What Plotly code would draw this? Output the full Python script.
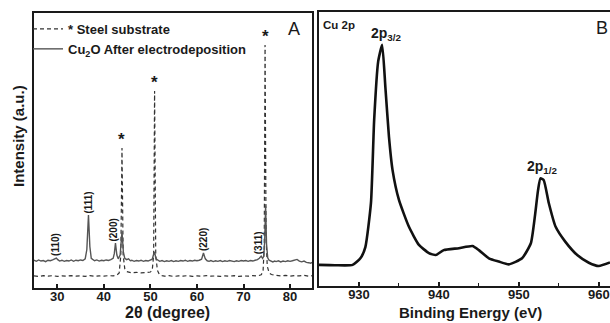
import plotly.graph_objects as go

# ---------------- Panel A: XRD ----------------
two_theta_cu2o = [25.0, 25.5, 26.0, 26.5, 27.0, 27.5, 28.0, 28.5, 29.0, 29.4, 29.8, 30.1, 30.5, 31.0, 31.5,
                  32.0, 32.5, 33.0, 33.5, 34.0, 34.5, 35.0, 35.5, 36.0, 36.35, 36.7, 37.0, 37.3, 37.7,
                  38.0, 38.5, 39.0, 39.5, 40.0, 40.5, 41.0, 41.5, 42.0, 42.25, 42.5, 42.8, 43.1, 43.5,
                  43.9, 44.2, 44.5, 44.9, 45.3, 45.7, 46.0, 46.5, 47.0, 47.5, 48.0, 48.5, 49.0, 49.5,
                  50.0, 50.4, 50.65, 50.9, 51.2, 51.6, 52.0, 52.5, 53.0, 53.5, 54.0, 54.5, 55.0, 55.5,
                  56.0, 56.5, 57.0, 57.5, 58.0, 58.5, 59.0, 59.5, 60.0, 60.5, 61.0, 61.4, 61.8, 62.2,
                  62.6, 63.0, 63.5, 64.0, 64.5, 65.0, 65.5, 66.0, 66.5, 67.0, 67.5, 68.0, 68.5, 69.0,
                  69.5, 70.0, 70.5, 71.0, 71.5, 72.0, 72.5, 73.0, 73.4, 73.8, 74.1, 74.35, 74.55, 74.75,
                  74.95, 75.2, 75.5, 75.9, 76.3, 76.7, 77.0, 77.5, 78.0, 78.5, 79.0, 79.5, 80.0, 80.5,
                  81.0, 81.5, 82.0, 82.5, 83.0, 83.5, 84.0, 84.4, 84.8]
int_cu2o = [10.1, 9.7, 10.2, 9.8, 10.0, 9.6, 10.1, 9.9, 10.2, 10.5, 10.9, 10.3, 9.8, 10.1, 9.7,
            10.0, 9.8, 10.2, 9.7, 10.1, 9.9, 10.2, 10.0, 10.6, 14.0, 26.5, 15.0, 10.8, 10.2,
            9.9, 10.2, 9.8, 10.1, 9.9, 10.2, 10.0, 10.3, 10.8, 12.5, 16.3, 12.0, 10.6, 12.0,
            20.5, 13.0, 10.8, 10.3, 10.6, 9.9, 10.1, 9.7, 10.0, 9.8, 10.1, 9.7, 10.0, 9.8,
            10.1, 10.5, 12.0, 13.1, 10.6, 10.0, 9.7, 10.0, 9.6, 9.9, 9.7, 10.0, 9.6, 9.9,
            9.7, 10.0, 9.8, 10.1, 9.7, 10.0, 9.8, 10.1, 9.9, 10.1, 10.5, 12.7, 10.6, 9.9,
            9.7, 10.0, 9.6, 9.9, 9.7, 10.0, 9.6, 9.9, 9.7, 10.0, 9.8, 9.6, 9.9, 9.7,
            10.0, 9.8, 10.0, 9.7, 10.0, 9.8, 10.1, 10.3, 10.8, 11.6, 10.8, 11.5, 17.0, 30.0,
            16.0, 11.0, 10.1, 9.8, 9.5, 9.8, 9.6, 9.9, 9.5, 9.8, 9.6, 9.9, 9.7, 9.9,
            10.1, 10.4, 9.8, 9.5, 9.8, 9.3, 9.2, 9.0, 9.3]

two_theta_steel = [25.0, 26.0, 27.0, 28.0, 29.0, 30.0, 31.0, 32.0, 33.0, 34.0, 35.0, 36.0, 37.0, 38.0,
                   39.0, 40.0, 41.0, 42.0, 42.8, 43.3, 43.65, 43.9, 44.15, 44.5, 44.9, 45.5, 46.0,
                   47.0, 48.0, 49.0, 50.0, 50.4, 50.7, 50.9, 51.15, 51.5, 51.9, 52.5, 53.0, 54.0,
                   55.0, 56.0, 57.0, 58.0, 59.0, 60.0, 61.0, 62.0, 63.0, 64.0, 65.0, 66.0, 67.0,
                   68.0, 69.0, 70.0, 71.0, 72.0, 73.0, 73.8, 74.2, 74.45, 74.63, 74.85, 75.1, 75.5,
                   76.0, 77.0, 78.0, 79.0, 80.0, 81.0, 82.0, 83.0, 84.0, 84.8]
int_steel = [4.4, 4.2, 4.5, 4.3, 4.5, 4.2, 4.4, 4.3, 4.5, 4.3, 4.4, 4.2, 4.5, 4.3,
             4.4, 4.3, 4.5, 4.4, 4.7, 5.5, 12.0, 50.9, 12.0, 7.0, 6.0, 5.6, 5.5,
             5.7, 5.5, 5.6, 5.8, 6.5, 12.0, 71.6, 12.0, 6.5, 5.0, 4.5, 4.3, 4.5,
             4.2, 4.4, 4.3, 4.5, 4.2, 4.4, 4.3, 4.5, 4.3, 4.4, 4.2, 4.4, 4.3,
             4.5, 4.2, 4.4, 4.3, 4.5, 4.4, 4.8, 6.0, 15.0, 88.4, 18.0, 8.0, 5.5,
             4.9, 4.6, 4.4, 4.6, 4.3, 4.5, 4.4, 4.6, 4.3, 4.5]

steel_star_x = [43.9, 50.9, 74.63]
steel_star_y = [50.9, 71.6, 88.4]

hkl_labels = ["(110)", "(111)", "(200)", "(220)", "(311)"]
hkl_label_x = [29.6, 36.7, 42.15, 61.4, 73.25]
hkl_peak_y = [10.9, 26.5, 16.3, 12.7, 11.6]

xrd_ticks = [30, 40, 50, 60, 70, 80]

# ---------------- Panel B: XPS Cu 2p ----------------
binding_energy = [925.0, 927.0, 929.2, 930.2, 930.8, 931.5, 931.9, 932.4, 932.9, 933.3, 933.75,
                  934.2, 935.0, 936.25, 937.5, 938.75, 939.6, 940.6, 942.5, 944.2, 945.0, 946.25,
                  947.5, 948.75, 950.4, 951.5, 952.0, 952.4, 952.7, 953.1, 953.75, 954.6, 955.8,
                  957.3, 958.75, 960.0, 961.4]
xps_intensity = [7.7, 7.6, 7.7, 10.2, 14.2, 30.3, 60.6, 81.9, 88.0, 72.7, 54.5,
                 42.3, 31.4, 21.6, 15.0, 12.0, 11.3, 13.1, 13.8, 14.6, 13.1, 10.1,
                 8.9, 7.9, 10.1, 15.6, 25.3, 35.0, 39.3, 38.7, 30.2, 21.6, 16.2,
                 11.3, 8.5, 7.3, 8.6]
xps_ticks = [930, 940, 950, 960]
xps_peak_labels = ["2p<sub>3/2</sub>", "2p<sub>1/2</sub>"]
xps_label_x = [933.4, 953.0]
xps_label_y = [88.0, 39.3]

W, H = 610, 323
FONT = "Liberation Sans, Arial, sans-serif"
INK = "#1a1a1a"

fig = go.Figure()
fig.add_trace(go.Scatter(x=two_theta_steel, y=int_steel, mode="lines", name="* Steel substrate",
                         line=dict(color="#333333", width=1.2, dash="4px,3px"),
                         xaxis="x", yaxis="y"))
fig.add_trace(go.Scatter(x=two_theta_cu2o, y=int_cu2o, mode="lines",
                         name="Cu<sub>2</sub>O After electrodeposition",
                         line=dict(color="#555555", width=1.4), xaxis="x", yaxis="y"))
fig.add_trace(go.Scatter(x=binding_energy, y=xps_intensity, mode="lines", showlegend=False,
                         line=dict(color="#111111", width=2.6, shape="spline", smoothing=0.5),
                         xaxis="x2", yaxis="y2"))

annotations = []
for sx, sy in zip(steel_star_x, steel_star_y):
    annotations.append(dict(x=sx, y=sy, xref="x", yref="y", text="*", showarrow=False,
                            yanchor="bottom", xanchor="center", yshift=-3,
                            font=dict(family=FONT, size=17, color=INK, weight="bold")))
for t, lx, ly in zip(hkl_labels, hkl_label_x, hkl_peak_y):
    annotations.append(dict(x=lx, y=ly, xref="x", yref="y", text=t, showarrow=False,
                            textangle=-90, yanchor="bottom", xanchor="center", yshift=0,
                            font=dict(family=FONT, size=10, color=INK, weight="bold")))
for t, lx, ly in zip(xps_peak_labels, xps_label_x, xps_label_y):
    annotations.append(dict(x=lx, y=ly, xref="x2", yref="y2", text=t, showarrow=False,
                            yanchor="bottom", xanchor="center", yshift=0,
                            font=dict(family=FONT, size=14, color=INK, weight="bold")))

annotations += [
    dict(x=18 / W, y=1 - 136 / H, xref="paper", yref="paper", text="Intensity (a.u.)",
         textangle=-90, showarrow=False, xanchor="center", yanchor="middle",
         font=dict(family=FONT, size=15, color=INK, weight="bold")),
    dict(x=167.5 / W, y=1 - 312 / H, xref="paper", yref="paper", text="2θ (degree)",
         showarrow=False, xanchor="center", yanchor="middle",
         font=dict(family=FONT, size=16, color=INK, weight="bold")),
    dict(x=471 / W, y=1 - 312 / H, xref="paper", yref="paper", text="Binding Energy (eV)",
         showarrow=False, xanchor="center", yanchor="middle",
         font=dict(family=FONT, size=15, color=INK, weight="bold")),
    dict(x=293.5 / W, y=1 - 29 / H, xref="paper", yref="paper", text="A",
         showarrow=False, xanchor="center", yanchor="middle",
         font=dict(family=FONT, size=18, color=INK)),
    dict(x=602 / W, y=1 - 28 / H, xref="paper", yref="paper", text="B",
         showarrow=False, xanchor="center", yanchor="middle",
         font=dict(family=FONT, size=18, color=INK)),
    dict(x=321 / W, y=1 - 25 / H, xref="paper", yref="paper", text="Cu 2p",
         showarrow=False, xanchor="left", yanchor="middle",
         font=dict(family=FONT, size=11.5, color=INK, weight="bold")),
]

axis_common = dict(showgrid=False, zeroline=False, showline=True, linewidth=2, linecolor=INK,
                   automargin=False)

fig.update_layout(
    width=W, height=H,
    margin=dict(l=0, r=0, t=0, b=0),
    paper_bgcolor="white", plot_bgcolor="white",
    font=dict(family=FONT, color=INK),
    showlegend=True,
    legend=dict(x=28 / W, y=1 - 14 / H, xanchor="left", yanchor="top",
                bgcolor="rgba(0,0,0,0)", borderwidth=0, itemwidth=30,
                tracegroupgap=0,
                font=dict(family=FONT, size=13, color=INK, weight="bold")),
    xaxis=dict(domain=[34 / W, 312.4 / W], range=[25, 84.8], anchor="y",
               tickmode="array", tickvals=xrd_ticks, ticks="inside", ticklen=4, tickwidth=1.5,
               tickcolor=INK, mirror=True, ticklabelstandoff=-5,
               tickfont=dict(family=FONT, size=13, color=INK, weight="bold"),
               **axis_common),
    yaxis=dict(domain=[1 - 288 / H, 1 - 13 / H], range=[0, 100], anchor="x",
               showticklabels=False, ticks="", mirror=True, **axis_common),
    xaxis2=dict(domain=[319 / W, 1.0], range=[925, 961.4], anchor="y2",
                tickmode="array", tickvals=xps_ticks, ticks="inside", ticklen=4, tickwidth=1.5,
                tickcolor=INK, mirror=True, ticklabelstandoff=-5,
                minor=dict(tickmode="array", tickvals=[935, 945, 955], ticks="inside",
                           ticklen=3, tickwidth=1.2, tickcolor=INK),
                tickfont=dict(family=FONT, size=13, color=INK, weight="bold"),
                **axis_common),
    yaxis2=dict(domain=[1 - 286 / H, 1 - 12 / H], range=[0, 100], anchor="x2",
                showticklabels=False, ticks="", mirror=False, **axis_common),
    annotations=annotations,
)

fig.write_html("out.html", config={"displayModeBar": False},
               post_script="document.body.style.margin='0px';document.body.style.overflow='hidden';")
